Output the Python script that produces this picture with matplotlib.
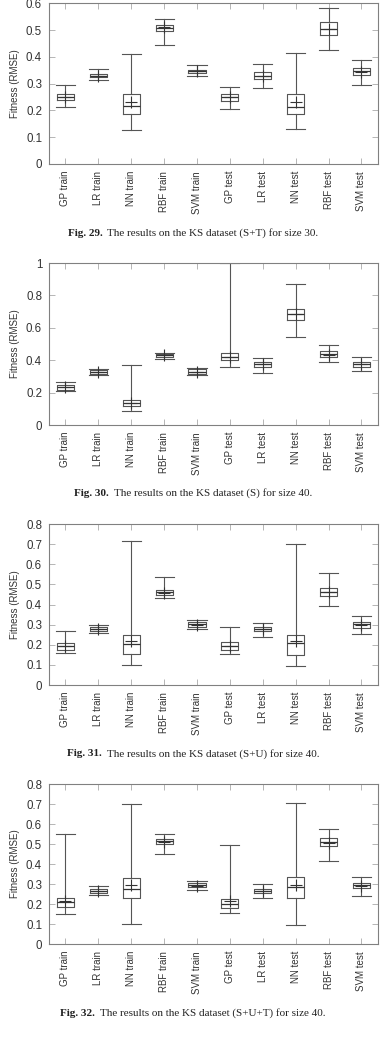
import matplotlib.pyplot as plt

# KS dataset boxplots, figs 29-32

labels = ['GP train', 'LR train', 'NN train', 'RBF train', 'SVM train',
          'GP test', 'LR test', 'NN test', 'RBF test', 'SVM test']

# fig 29 (S+T), size 30
f29_lo   = [0.211, 0.313, 0.125, 0.443, 0.328, 0.206, 0.283, 0.129, 0.427, 0.293]
f29_q1   = [0.239, 0.323, 0.188, 0.497, 0.339, 0.235, 0.319, 0.186, 0.482, 0.332]
f29_med  = [0.251, 0.330, 0.217, 0.509, 0.347, 0.250, 0.330, 0.214, 0.504, 0.347]
f29_q3   = [0.261, 0.337, 0.263, 0.520, 0.352, 0.263, 0.343, 0.263, 0.530, 0.359]
f29_hi   = [0.293, 0.354, 0.411, 0.542, 0.371, 0.287, 0.374, 0.414, 0.584, 0.388]
f29_mean = [0.250, 0.330, 0.230, 0.510, 0.346, 0.250, 0.330, 0.231, 0.504, 0.345]

# fig 30 (S), size 40
f30_lo   = [0.208, 0.307, 0.085, 0.406, 0.309, 0.361, 0.322, 0.546, 0.392, 0.332]
f30_q1   = [0.219, 0.315, 0.115, 0.421, 0.315, 0.402, 0.361, 0.647, 0.419, 0.361]
f30_med  = [0.233, 0.328, 0.136, 0.433, 0.328, 0.423, 0.377, 0.685, 0.437, 0.377]
f30_q3   = [0.247, 0.340, 0.157, 0.441, 0.346, 0.443, 0.392, 0.715, 0.454, 0.392]
f30_hi   = [0.266, 0.348, 0.373, 0.447, 0.355, 1.000, 0.412, 0.872, 0.493, 0.419]
f30_mean = [0.233, 0.326, 0.138, 0.430, 0.330, 0.420, 0.375, 0.685, 0.435, 0.375]

# fig 31 (S+U), size 40
f31_lo   = [0.158, 0.259, 0.101, 0.430, 0.277, 0.153, 0.237, 0.093, 0.392, 0.254]
f31_q1   = [0.176, 0.266, 0.153, 0.446, 0.289, 0.176, 0.266, 0.149, 0.441, 0.285]
f31_med  = [0.192, 0.277, 0.202, 0.460, 0.302, 0.192, 0.277, 0.207, 0.461, 0.302]
f31_q3   = [0.209, 0.287, 0.251, 0.470, 0.312, 0.212, 0.287, 0.251, 0.480, 0.315]
f31_hi   = [0.270, 0.299, 0.714, 0.536, 0.325, 0.290, 0.310, 0.700, 0.558, 0.344]
f31_mean = [0.193, 0.277, 0.221, 0.457, 0.300, 0.193, 0.277, 0.221, 0.460, 0.300]

# fig 32 (S+U+T), size 40
f32_lo   = [0.150, 0.246, 0.100, 0.451, 0.270, 0.153, 0.231, 0.097, 0.414, 0.238]
f32_q1   = [0.185, 0.256, 0.228, 0.502, 0.283, 0.181, 0.253, 0.228, 0.488, 0.278]
f32_med  = [0.211, 0.266, 0.276, 0.516, 0.293, 0.200, 0.265, 0.285, 0.511, 0.293]
f32_q3   = [0.230, 0.276, 0.331, 0.527, 0.304, 0.223, 0.276, 0.334, 0.529, 0.304]
f32_hi   = [0.552, 0.288, 0.702, 0.549, 0.316, 0.494, 0.300, 0.707, 0.574, 0.333]
f32_mean = [0.216, 0.266, 0.295, 0.512, 0.292, 0.213, 0.266, 0.295, 0.505, 0.290]

panels = [
    (f29_lo, f29_q1, f29_med, f29_q3, f29_hi, f29_mean, 0.6, [0, 0.1, 0.2, 0.3, 0.4, 0.5, 0.6],
     ['0', '0.1', '0.2', '0.3', '0.4', '0.5', '0.6'],
     'Fig. 29.', 'The results on the KS dataset (S+T) for size 30.'),
    (f30_lo, f30_q1, f30_med, f30_q3, f30_hi, f30_mean, 1.0, [0, 0.2, 0.4, 0.6, 0.8, 1.0],
     ['0', '0.2', '0.4', '0.6', '0.8', '1'],
     'Fig. 30.', 'The results on the KS dataset (S) for size 40.'),
    (f31_lo, f31_q1, f31_med, f31_q3, f31_hi, f31_mean, 0.8, [0, 0.1, 0.2, 0.3, 0.4, 0.5, 0.6, 0.7, 0.8],
     ['0', '0.1', '0.2', '0.3', '0.4', '0.5', '0.6', '0.7', '0.8'],
     'Fig. 31.', 'The results on the KS dataset (S+U) for size 40.'),
    (f32_lo, f32_q1, f32_med, f32_q3, f32_hi, f32_mean, 0.8, [0, 0.1, 0.2, 0.3, 0.4, 0.5, 0.6, 0.7, 0.8],
     ['0', '0.1', '0.2', '0.3', '0.4', '0.5', '0.6', '0.7', '0.8'],
     'Fig. 32.', 'The results on the KS dataset (S+U+T) for size 40.'),
]

# axes rectangles (left, bottom, width, height) and caption y, in figure fractions
rects = [(0.127, 0.8428, 0.852, 0.1541),
         (0.127, 0.5925, 0.852, 0.1553),
         (0.127, 0.3432, 0.852, 0.1544),
         (0.127, 0.0949, 0.852, 0.1534)]
cap_y = [1 - 233 / 1043, 1 - 493 / 1043, 1 - 754 / 1043, 1 - 1013 / 1043]

line_c = '#555555'
frame_c = '#808080'
text_c = '#333333'

fig = plt.figure(figsize=(3.86, 10.43), dpi=100)
plt.rcParams['font.family'] = ['Liberation Sans', 'DejaVu Sans']

captions = []
for i, p in enumerate(panels):
    lo, q1, med, q3, hi, mean, ymax, yt, ytl, fig_no, cap = p
    ax = fig.add_axes(rects[i])
    stats = []
    for k in range(len(labels)):
        stats.append({'whislo': lo[k], 'q1': q1[k], 'med': med[k], 'q3': q3[k],
                      'whishi': hi[k], 'mean': mean[k], 'fliers': []})
    lp = dict(color=line_c, linewidth=0.8)
    ax.bxp(stats, positions=range(1, 11), widths=0.52, capwidths=0.58,
           showmeans=True, showfliers=False,
           boxprops=lp, whiskerprops=lp, capprops=lp,
           medianprops=dict(color='#333333', linewidth=0.9),
           meanprops=dict(marker='+', markersize=8, markeredgecolor='#333333',
                          markeredgewidth=0.8))
    ax.set_xlim(0.5, 10.5)
    ax.set_ylim(0, ymax)
    ax.set_yticks(yt)
    ax.set_yticklabels(ytl)
    ax.set_xticks(range(1, 11))
    ax.set_xticklabels(labels, rotation=90)
    ax.tick_params(axis='both', direction='in', length=4, width=0.6, color='#aaaaaa',
                   labelcolor=text_c, top=True, right=True)
    ax.tick_params(axis='x', pad=5, labelsize=7)
    ax.tick_params(axis='y', pad=5, labelsize=8.3)
    for s in ax.spines.values():
        s.set_color(frame_c)
        s.set_linewidth(0.8)
    ax.set_ylabel('Fitness (RMSE)', fontsize=7, color=text_c, labelpad=4)

    t1 = fig.text(0.0, cap_y[i], fig_no, fontsize=8, fontweight='bold',
                  family=['Liberation Serif', 'DejaVu Serif'], va='center', ha='left', color='#222222')
    t2 = fig.text(0.0, cap_y[i], cap, fontsize=8,
                  family=['Liberation Serif', 'DejaVu Serif'], va='center', ha='left', color='#222222')
    captions.append((t1, t2))

# center each two-part caption
fig.canvas.draw()
r = fig.canvas.get_renderer()
W = fig.bbox.width
gap = 5
for t1, t2 in captions:
    w1 = t1.get_window_extent(r).width
    w2 = t2.get_window_extent(r).width
    x0 = (W - (w1 + gap + w2)) / 2
    t1.set_x(x0 / W)
    t2.set_x((x0 + w1 + gap) / W)

fig.savefig('out.png', dpi=100)
